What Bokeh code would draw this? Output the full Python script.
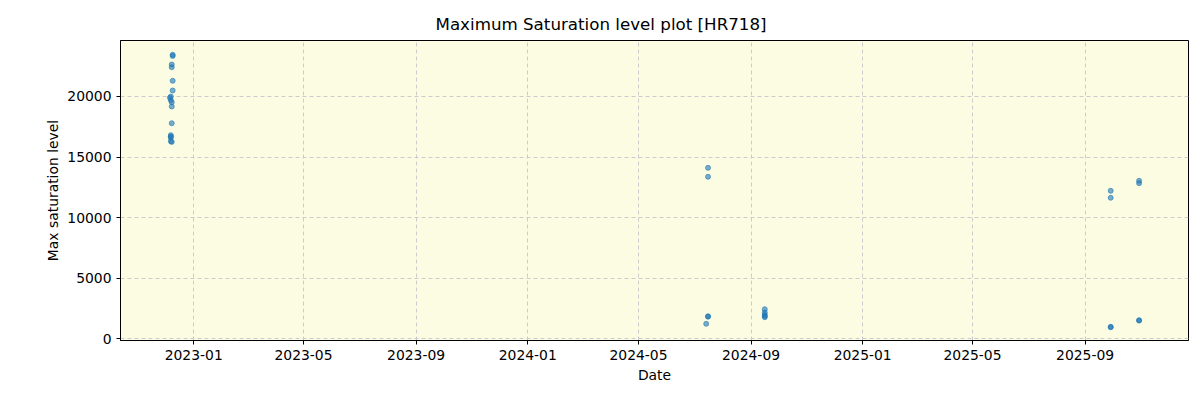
from datetime import datetime
from bokeh.plotting import figure
from bokeh.models import Range1d, FixedTicker, CustomJSTickFormatter, ColumnDataSource
from bokeh.embed import file_html
from bokeh.resources import INLINE

dates = ["2022-12-09", "2022-12-09", "2022-12-08", "2022-12-08", "2022-12-09", "2022-12-09",
         "2022-12-06", "2022-12-07", "2022-12-07", "2022-12-08", "2022-12-08", "2022-12-08",
         "2022-12-07", "2022-12-07", "2022-12-07", "2022-12-07", "2022-12-08",
         "2024-07-16", "2024-07-16", "2024-07-16", "2024-07-16", "2024-07-14",
         "2024-09-16", "2024-09-16", "2024-09-16", "2024-09-16", "2024-09-16",
         "2025-09-29", "2025-09-29", "2025-09-29", "2025-09-29",
         "2025-10-30", "2025-10-30", "2025-10-30", "2025-10-30"]
values = [23350, 23450, 22645, 22421, 21298, 20496,
          19900, 20000, 19700, 19530, 19174, 17793,
          16802, 16700, 16587, 16306, 16250,
          14107, 13364, 1843, 1800, 1215,
          2421, 2150, 1959, 1850, 1760,
          12207, 11628, 967, 930,
          13033, 12835, 1512, 1480]

x_tick_labels = ["2023-01", "2023-05", "2023-09", "2024-01", "2024-05",
                 "2024-09", "2025-01", "2025-05", "2025-09"]
y_ticks = [0, 5000, 10000, 15000, 20000]

def ms(d):
    return (datetime.strptime(d, "%Y-%m-%d") - datetime(1970, 1, 1)).total_seconds() * 1000.0

src = ColumnDataSource(dict(x=[ms(d) for d in dates], y=values))

p = figure(width=1200, height=400, output_backend="svg", toolbar_location=None,
           x_range=Range1d(ms("2022-10-13"), ms("2025-12-23")),
           y_range=Range1d(-165, 24628),
           min_border_left=120, min_border_right=12, min_border_top=40, min_border_bottom=60,
           title="Maximum Saturation level plot [HR718]")

p.title.align = "left"
p.title.offset = 315
p.title.vertical_align = "top"
p.title.text_font = "DejaVu Sans"
p.title.text_font_size = "16.7px"
p.title.text_font_style = "normal"
p.title.text_color = "black"

p.background_fill_color = "#fcfce3"
p.border_fill_color = "white"
p.outline_line_color = "black"
p.outline_line_width = 1

p.scatter("x", "y", source=src, size=5, color="#1f77b4", alpha=0.6, line_alpha=0.6)

p.xaxis.ticker = FixedTicker(ticks=[ms(t + "-01") for t in x_tick_labels])
p.xaxis.formatter = CustomJSTickFormatter(code="""
const d = new Date(tick);
const m = d.getUTCMonth() + 1;
return d.getUTCFullYear() + "-" + (m < 10 ? "0" + m : "" + m);
""")
p.yaxis.ticker = FixedTicker(ticks=y_ticks)

for ax in (p.xaxis, p.yaxis):
    ax.major_tick_in = 0
    ax.major_tick_out = 4
    ax.minor_tick_line_color = None
    ax.major_label_text_font = "DejaVu Sans"
    ax.major_label_text_font_size = "13.9px"
    ax.major_label_text_color = "black"
    ax.axis_label_text_font = "DejaVu Sans"
    ax.axis_label_text_font_size = "13.9px"
    ax.axis_label_text_font_style = "normal"
    ax.axis_label_text_color = "black"
    ax.axis_line_color = "black"
    ax.major_tick_line_color = "black"

p.xaxis.axis_label = "Date"
p.yaxis.axis_label = "Max saturation level"
p.xaxis.axis_label_standoff = 4
p.yaxis.axis_label_standoff = 3

p.grid.grid_line_color = "#cccccc"
p.grid.grid_line_dash = "4 3"
p.grid.grid_line_width = 1

open("out.html", "w").write(file_html(p, INLINE))
